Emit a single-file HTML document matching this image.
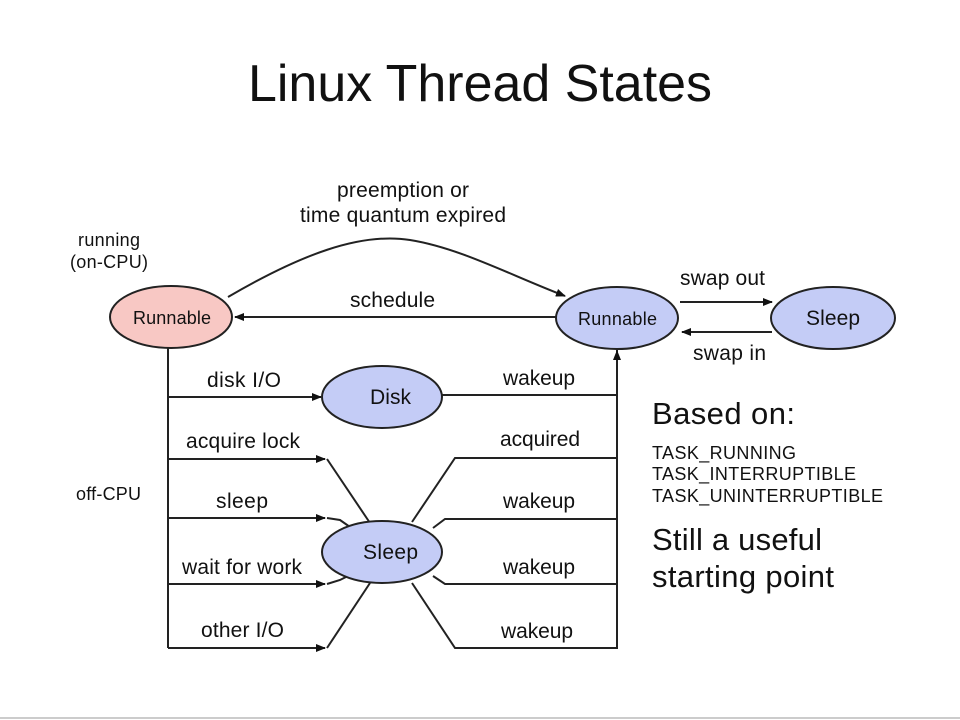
<!DOCTYPE html>
<html><head><meta charset="utf-8"><style>
html,body{margin:0;padding:0;background:#fff;width:960px;height:720px;overflow:hidden}
svg{display:block}
text{font-family:"Liberation Sans",Arial,sans-serif;fill:#111}
</style></head><body>
<svg width="960" height="720" viewBox="0 0 960 720" xmlns="http://www.w3.org/2000/svg">
<defs><marker id="a" markerWidth="10" markerHeight="8" refX="9" refY="4" orient="auto" markerUnits="userSpaceOnUse"><path d="M0,0 L10,4 L0,8 z" fill="#111"/></marker></defs>
<line x1="0" y1="718" x2="960" y2="718" stroke="#ccc" stroke-width="2"/>
<text x="248" y="101" font-size="52" textLength="464" lengthAdjust="spacingAndGlyphs">Linux Thread States</text>
<g stroke="#222" stroke-width="2" fill="none">
<path d="M228,297 C300,255 360,232 410,240 C460,248 510,275 565,296" marker-end="url(#a)"/>
<line x1="556" y1="317" x2="235" y2="317" marker-end="url(#a)"/>
<line x1="680" y1="302" x2="772" y2="302" marker-end="url(#a)"/>
<line x1="772" y1="332" x2="682" y2="332" marker-end="url(#a)"/>
<line x1="168" y1="348" x2="168" y2="648"/>
<line x1="168" y1="397" x2="321" y2="397" marker-end="url(#a)"/>
<line x1="168" y1="459" x2="325" y2="459" marker-end="url(#a)"/>
<line x1="168" y1="518" x2="325" y2="518" marker-end="url(#a)"/>
<line x1="168" y1="584" x2="325" y2="584" marker-end="url(#a)"/>
<line x1="168" y1="648" x2="325" y2="648" marker-end="url(#a)"/>
<polyline points="327,459 370,523"/>
<polyline points="327,518 340,520 350,527"/>
<polyline points="327,584 340,580 348,576"/>
<polyline points="327,648 370,583"/>
<line x1="442" y1="395" x2="617" y2="395"/>
<polyline points="412,522 455,458 617,458"/>
<polyline points="433,528 445,519 617,519"/>
<polyline points="433,576 445,584 617,584"/>
<polyline points="412,583 455,648 617,648 617,350"/>
<line x1="617" y1="400" x2="617" y2="351" marker-end="url(#a)"/>
</g>
<g stroke="#222" stroke-width="2">
<ellipse cx="171" cy="317" rx="61" ry="31" fill="#f8c8c4"/>
<ellipse cx="617" cy="318" rx="61" ry="31" fill="#c4ccf6"/>
<ellipse cx="833" cy="318" rx="62" ry="31" fill="#c4ccf6"/>
<ellipse cx="382" cy="397" rx="60" ry="31" fill="#c4ccf6"/>
<ellipse cx="382" cy="552" rx="60" ry="31" fill="#c4ccf6"/>
</g>
<g lengthAdjust="spacingAndGlyphs">
<text x="133" y="324" font-size="18" textLength="78">Runnable</text>
<text x="578" y="325" font-size="18" textLength="79">Runnable</text>
<text x="806" y="325" font-size="21" textLength="54">Sleep</text>
<text x="370" y="404" font-size="21" textLength="41">Disk</text>
<text x="363" y="559" font-size="21" textLength="55">Sleep</text>
<text x="337" y="197" font-size="21" textLength="132">preemption or</text>
<text x="300" y="222" font-size="21" textLength="206">time quantum expired</text>
<text x="78" y="246" font-size="18" textLength="62">running</text>
<text x="70" y="268" font-size="18" textLength="78">(on-CPU)</text>
<text x="350" y="307" font-size="21" textLength="85">schedule</text>
<text x="680" y="285" font-size="21" textLength="85">swap out</text>
<text x="693" y="360" font-size="21" textLength="73">swap in</text>
<text x="207" y="387" font-size="21" textLength="74">disk I/O</text>
<text x="186" y="448" font-size="21" textLength="114">acquire lock</text>
<text x="216" y="508" font-size="21" textLength="52">sleep</text>
<text x="182" y="574" font-size="21" textLength="120">wait for work</text>
<text x="201" y="637" font-size="21" textLength="83">other I/O</text>
<text x="503" y="385" font-size="21" textLength="72">wakeup</text>
<text x="500" y="446" font-size="21" textLength="80">acquired</text>
<text x="503" y="508" font-size="21" textLength="72">wakeup</text>
<text x="503" y="574" font-size="21" textLength="72">wakeup</text>
<text x="501" y="638" font-size="21" textLength="72">wakeup</text>
<text x="76" y="500" font-size="18" textLength="65">off-CPU</text>
<text x="652" y="424" font-size="31" textLength="143">Based on:</text>
<text x="652" y="459" font-size="18" textLength="144">TASK_RUNNING</text>
<text x="652" y="480" font-size="18" textLength="204">TASK_INTERRUPTIBLE</text>
<text x="652" y="502" font-size="18" textLength="231">TASK_UNINTERRUPTIBLE</text>
<text x="652" y="550" font-size="31" textLength="170">Still a useful</text>
<text x="652" y="587" font-size="31" textLength="182">starting point</text>
</g>
</svg>
</body></html>
